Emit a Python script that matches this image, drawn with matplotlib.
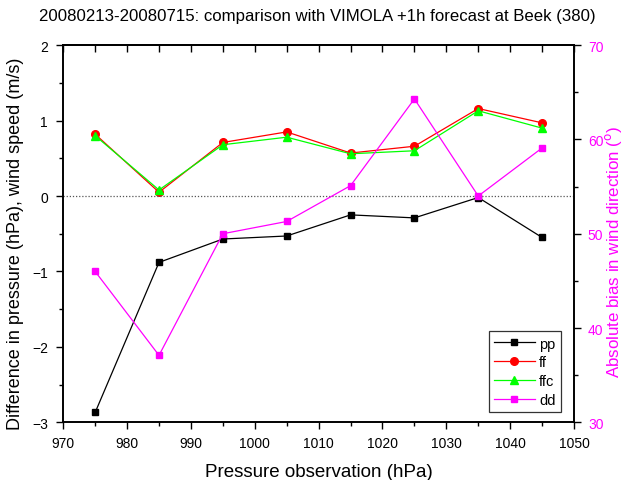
import numpy as np
import matplotlib
matplotlib.use('Agg')
import matplotlib.pyplot as plt
from matplotlib.ticker import MultipleLocator

plt.rcParams['font.family'] = ['Liberation Sans', 'DejaVu Sans']

# pressure classes (hPa)
pressure = [975, 985, 995, 1005, 1015, 1025, 1035, 1045]

# differences w.r.t. the +1h forecast
pp = [-2.87, -0.88, -0.57, -0.53, -0.25, -0.29, -0.02, -0.55]
ff = [0.82, 0.05, 0.71, 0.85, 0.57, 0.66, 1.16, 0.97]
ffc = [0.80, 0.08, 0.68, 0.78, 0.56, 0.60, 1.13, 0.90]
# absolute wind direction bias (degrees)
dd = [46.0, 37.1, 50.0, 51.3, 55.1, 64.3, 54.0, 59.1]

title = '20080213-20080715: comparison with VIMOLA +1h forecast at Beek (380)'
magenta = '#ff00ff'

fig = plt.figure(figsize=(6.26, 4.81), dpi=100)
ax = fig.add_axes([0.101, 0.12, 0.816, 0.784])
ax2 = ax.twinx()

l_pp, = ax.plot(pressure, pp, color='black', lw=0.9, marker='s', ms=5, label='pp')
l_ff, = ax.plot(pressure, ff, color='#ff0000', lw=0.9, marker='o', ms=5.5, label='ff')
l_ffc, = ax.plot(pressure, ffc, color='#00ff00', lw=0.9, marker='^', ms=5.5, label='ffc')
l_dd, = ax2.plot(pressure, dd, color=magenta, lw=0.9, marker='s', ms=5, label='dd')

ax.axhline(0, color='#555555', lw=0.9, ls=(0, (1, 1.5)))

ax.set_xlim(970, 1050)
ax.set_ylim(-3, 2)
ax2.set_ylim(30, 70)

ax.xaxis.set_major_locator(MultipleLocator(10))
ax.xaxis.set_minor_locator(MultipleLocator(5))
ax.yaxis.set_major_locator(MultipleLocator(1))
ax.yaxis.set_minor_locator(MultipleLocator(0.5))
ax2.yaxis.set_major_locator(MultipleLocator(10))
ax2.yaxis.set_minor_locator(MultipleLocator(5))

ax.tick_params(axis='both', which='major', length=5, width=1, labelsize=10,
               direction='out')
ax.tick_params(axis='both', which='minor', length=3, width=1, direction='out')
ax.tick_params(axis='x', pad=5)
ax.tick_params(axis='y', pad=6)
ax2.tick_params(axis='y', which='major', length=5, width=1, labelsize=10,
                colors='black', labelcolor=magenta, direction='out', pad=5)
ax2.tick_params(axis='y', which='minor', length=3, width=1, direction='out')

# top axis: inward ticks, no labels
top = ax.secondary_xaxis('top')
top.xaxis.set_major_locator(MultipleLocator(10))
top.xaxis.set_minor_locator(MultipleLocator(5))
top.tick_params(which='both', direction='in', length=5, width=1, labeltop=False)

for a in (ax, ax2):
    for s in a.spines.values():
        s.set_linewidth(1.2)
top.spines['top'].set_linewidth(1.2)

ax.set_xlabel('Pressure observation (hPa)', fontsize=13.5, labelpad=9)
ax.set_ylabel('Difference in pressure (hPa), wind speed (m/s)', fontsize=13)
ax.yaxis.set_label_coords(-0.077, 0.475)
ax2.set_ylabel('Absolute bias in wind direction ($^{\\rm o}$)', fontsize=12.2,
               color=magenta)
ax2.yaxis.set_label_coords(1.057, 0.454)
fig.suptitle(title, fontsize=12.1, x=0.507, y=0.965, va='center')

leg = ax2.legend(handles=[l_pp, l_ff, l_ffc, l_dd], loc='lower right',
                 bbox_to_anchor=(0.974, 0.027), borderaxespad=0, fontsize=10.5,
                 fancybox=False, edgecolor='#333333', framealpha=1,
                 handlelength=2.8, handletextpad=0.3, borderpad=0.35,
                 labelspacing=0.33)
leg.get_frame().set_linewidth(0.9)

fig.savefig('out.png', dpi=100)
